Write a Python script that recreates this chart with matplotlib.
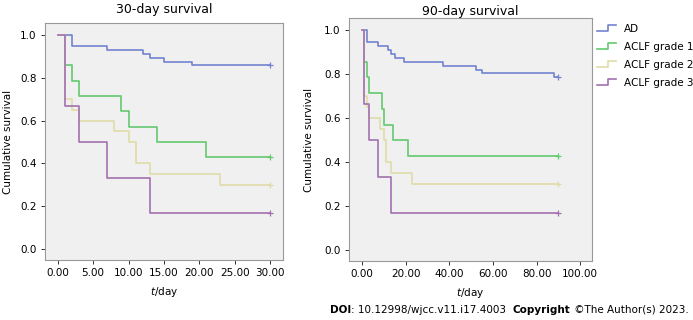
import matplotlib
matplotlib.use('Agg')
from matplotlib import pyplot as plt
from matplotlib.lines import Line2D
from matplotlib.legend_handler import HandlerBase


groups = ['AD', 'ACLF grade 1', 'ACLF grade 2', 'ACLF grade 3']
colors = ['#7283d0', '#63c96f', '#e0dcaa', '#a270b0']

# Kaplan-Meier steps (day of event, survival after event)
ad_days = [0, 2, 7, 12, 13, 15, 19, 37, 52, 55, 88]
ad_surv = [1.0, 0.946, 0.929, 0.911, 0.893, 0.875, 0.857, 0.839, 0.821, 0.804, 0.786]
g1_days = [0, 1, 2, 3, 9, 10, 14, 21]
g1_surv = [1.0, 0.857, 0.786, 0.714, 0.643, 0.571, 0.5, 0.429]
g2_days = [0, 1, 2, 3, 8, 10, 11, 13, 23]
g2_surv = [1.0, 0.7, 0.65, 0.6, 0.55, 0.5, 0.4, 0.35, 0.3]
g3_days = [0, 1, 3, 7, 13]
g3_surv = [1.0, 0.667, 0.5, 0.333, 0.167]

all_days = [ad_days, g1_days, g2_days, g3_days]
all_surv = [ad_surv, g1_surv, g2_surv, g3_surv]

panel_titles = ['30-day survival', '90-day survival']
panel_ends = [30, 90]
x_ticks = [[0, 5, 10, 15, 20, 25, 30], [0, 20, 40, 60, 80, 100]]
y_ticks = [0.0, 0.2, 0.4, 0.6, 0.8, 1.0]

FS = 7.5
BG = '#f0f0f0'


class StepHandler(HandlerBase):
    def create_artists(self, legend, orig_handle, xdescent, ydescent,
                       width, height, fontsize, trans):
        w = width
        h = height
        xs = [0, w * 0.55, w * 0.55, w]
        ys = [h * 0.1, h * 0.1, h * 0.9, h * 0.9]
        ln = Line2D([x - xdescent for x in xs], [y - ydescent for y in ys],
                    color=orig_handle.get_color(), lw=1.2)
        ln.set_transform(trans)
        return [ln]


def curve(days, surv, end):
    xs = [d for d in days if d <= end]
    ys = surv[:len(xs)]
    return xs + [end], ys + [ys[-1]]


def main():
    fig = plt.figure(figsize=(6.93, 3.2), dpi=100)
    ax1 = fig.add_axes([0.065, 0.1875, 0.343, 0.741])
    ax2 = fig.add_axes([0.5036, 0.184, 0.351, 0.759])
    xlims = [(-1.8, 31.8), (-6.1, 105.5)]
    tpads = [7, 2]
    lpads = [5, 7]

    handles = []
    for k, ax in enumerate([ax1, ax2]):
        ax.set_facecolor(BG)
        end = panel_ends[k]
        for days, surv, c in zip(all_days, all_surv, colors):
            xs, ys = curve(days, surv, end)
            ln, = ax.step(xs, ys, where='post', color=c, lw=1.2)
            ax.plot([xs[-1]], [ys[-1]], marker='+', color=c, ms=4, mew=0.9)
            if k == 1:
                handles.append(ln)
        ax.set_xlim(*xlims[k])
        ax.set_ylim(-0.05, 1.055)
        ax.set_xticks(x_ticks[k])
        ax.set_xticklabels(['%.2f' % v for v in x_ticks[k]], fontsize=FS)
        ax.set_yticks(y_ticks)
        ax.set_yticklabels(['%.1f' % v for v in y_ticks], fontsize=FS)
        ax.tick_params(length=3, width=0.7, color='#333333', pad=3)
        for s in ax.spines.values():
            s.set_color('#999999')
            s.set_linewidth(0.8)
        ax.set_title(panel_titles[k], fontsize=9, pad=tpads[k])
        ax.set_ylabel('Cumulative survival', fontsize=FS, labelpad=lpads[k])
        ax.set_xlabel('$\\it{t}$/day', fontsize=FS, labelpad=5)

    fig.legend(handles, groups, loc='upper left', bbox_to_anchor=(0.861, 0.925),
               frameon=False, fontsize=FS, handler_map={Line2D: StepHandler()},
               handlelength=1.9, handletextpad=0.75, labelspacing=0.76,
               borderpad=0, borderaxespad=0)

    # footer line
    fig.canvas.draw()
    r = fig.canvas.get_renderer()
    parts = [('DOI', 'bold'), (': 10.12998/wjcc.v11.i17.4003  ', 'normal'),
             ('Copyright', 'bold'), (' \u00a9The Author(s) 2023.', 'normal')]
    x = 330 / 693
    for txt, wt in parts:
        t = fig.text(x, 10 / 320, txt, fontsize=7.5, fontweight=wt, va='center', ha='left')
        bb = t.get_window_extent(r)
        x += bb.width / (6.93 * 100)

    fig.savefig('out.png', dpi=100)


if __name__ == '__main__':
    main()
